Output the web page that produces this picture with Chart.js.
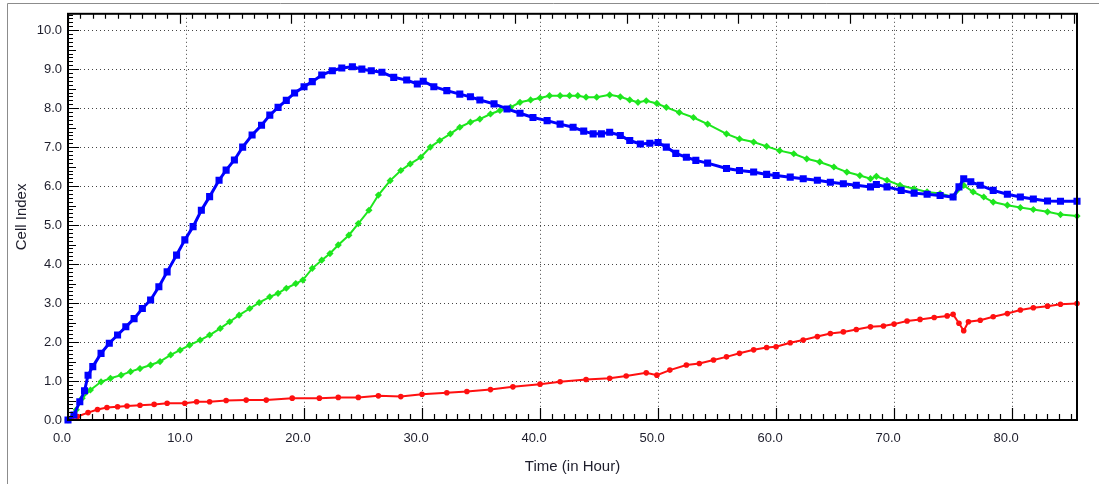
<!DOCTYPE html>
<html>
<head>
<meta charset="utf-8">
<script src="https://cdn.jsdelivr.net/npm/chart.js@4/dist/chart.umd.min.js"></script>
<style>
  html, body { margin: 0; padding: 0; background: #fff; }
  #wrap { position: relative; width: 1099px; height: 484px; }
</style>
</head>
<body>
<div id="wrap"><canvas id="cellChart" width="1099" height="484"></canvas></div>
<script>
// time (hours) and cell index
const blueT = [0,0.5,1.0,1.4,1.7,2.1,2.8,3.5,4.2,4.9,5.6,6.3,7.0,7.7,8.4,9.2,9.9,10.6,11.3,12.0,12.8,13.4,14.1,14.8,15.6,16.4,17.1,17.8,18.5,19.2,20.0,20.7,21.5,22.4,23.2,24.1,24.9,25.7,26.6,27.6,28.7,29.6,30.1,31.0,32.1,33.2,34.1,34.9,36.1,37.2,38.3,39.4,40.6,41.7,42.8,43.7,44.5,45.2,45.9,46.8,47.6,48.5,49.3,50.0,50.7,51.5,52.4,53.2,54.2,55.8,56.9,58.1,59.2,60.0,61.2,62.3,63.5,64.6,65.7,66.8,68.0,68.5,69.4,70.6,71.7,72.8,73.9,75.0,75.5,75.9,76.5,77.3,78.4,79.6,80.7,81.8,83.0,84.1,85.5];
const blueV = [0,0.13,0.47,0.75,1.15,1.37,1.71,1.97,2.18,2.39,2.6,2.86,3.08,3.42,3.8,4.23,4.62,4.96,5.38,5.73,6.15,6.41,6.67,7.0,7.31,7.56,7.82,8.02,8.2,8.39,8.55,8.68,8.85,8.96,9.03,9.06,9.0,8.96,8.92,8.79,8.72,8.62,8.69,8.55,8.45,8.36,8.29,8.21,8.11,7.98,7.87,7.76,7.68,7.59,7.51,7.41,7.34,7.34,7.38,7.30,7.17,7.08,7.1,7.12,7.0,6.84,6.74,6.66,6.59,6.45,6.40,6.36,6.30,6.27,6.23,6.19,6.15,6.10,6.06,6.02,5.98,6.04,5.98,5.89,5.82,5.79,5.76,5.72,5.98,6.19,6.11,6.02,5.89,5.79,5.72,5.67,5.62,5.61,5.61];

const greenT = [0,0.7,1.2,1.9,2.8,3.6,4.5,5.3,6.1,7.0,7.8,8.7,9.5,10.3,11.2,12.0,12.9,13.7,14.5,15.4,16.2,17.1,17.8,18.5,19.3,19.9,20.7,21.5,22.2,22.9,23.8,24.6,25.5,26.3,27.3,28.2,29.0,29.9,30.7,31.5,32.4,33.2,34.1,34.9,35.8,36.6,37.5,38.3,39.2,40.0,40.8,41.7,42.5,43.2,43.9,44.8,45.9,46.8,47.6,48.3,49.0,49.9,50.7,51.8,53.0,54.2,55.8,56.9,58.1,59.2,60.3,61.5,62.6,63.7,64.9,66.0,67.1,68.0,68.5,69.4,70.5,71.7,72.8,73.9,75.0,75.9,76.7,77.6,78.4,79.6,80.7,81.8,83.0,84.1,85.5];
const greenV = [0,0.26,0.56,0.77,0.98,1.07,1.15,1.24,1.32,1.41,1.5,1.67,1.79,1.92,2.05,2.18,2.35,2.52,2.69,2.86,3.01,3.16,3.25,3.38,3.5,3.59,3.89,4.1,4.27,4.49,4.74,5.04,5.38,5.77,6.14,6.4,6.57,6.74,7.0,7.17,7.34,7.51,7.64,7.72,7.85,7.94,8.02,8.15,8.21,8.26,8.32,8.32,8.32,8.32,8.28,8.28,8.34,8.29,8.21,8.15,8.19,8.12,8.02,7.89,7.76,7.59,7.34,7.21,7.13,7.02,6.91,6.83,6.70,6.62,6.49,6.36,6.27,6.19,6.25,6.15,6.02,5.93,5.85,5.81,5.72,6.02,5.85,5.72,5.59,5.51,5.45,5.40,5.34,5.27,5.23];

const redT = [0,0.8,1.7,2.5,3.3,4.2,5.0,6.1,7.3,8.4,9.9,10.9,12.0,13.4,15.1,16.8,19.0,21.3,22.9,24.6,26.3,28.2,30.0,32.1,33.8,35.8,37.7,40.0,41.7,43.9,45.9,47.3,49.0,49.9,51.0,52.4,53.5,54.7,55.8,56.9,58.1,59.2,60.0,61.2,62.3,63.5,64.6,65.7,66.8,68.0,69.1,70.0,71.1,72.2,73.4,74.5,75.0,75.5,75.9,76.3,77.3,78.4,79.6,80.7,81.8,83.0,84.1,85.5];
const redV = [0,0.09,0.19,0.27,0.32,0.34,0.36,0.38,0.40,0.43,0.43,0.47,0.47,0.50,0.51,0.51,0.56,0.56,0.58,0.58,0.62,0.6,0.66,0.70,0.73,0.78,0.85,0.92,0.98,1.04,1.07,1.13,1.21,1.15,1.28,1.41,1.45,1.54,1.62,1.71,1.80,1.86,1.88,1.98,2.05,2.14,2.22,2.26,2.32,2.39,2.41,2.46,2.54,2.58,2.63,2.67,2.71,2.48,2.29,2.52,2.56,2.65,2.73,2.82,2.88,2.92,2.97,2.99];

const xMax = 85.5;
const yMax = 10.42;
const topMax = 9.03; // unlabeled top axis, 9 minor steps per major

function pts(t, v) {
  return t.map((x, i) => ({ x: x, y: v[i] }));
}

const FONT = "'Liberation Sans', Arial, sans-serif";
const TXT = '#1e1e2c';

// inward tick marks, plot frame and outer panel border
const frame = {
  id: 'frame',
  afterDraw(chart) {
    const { ctx, chartArea: a, scales } = chart;
    ctx.save();
    ctx.setLineDash([]);
    ctx.strokeStyle = '#8c8c8c';
    ctx.lineWidth = 1;
    ctx.beginPath();
    ctx.moveTo(7.5, 484);
    ctx.lineTo(7.5, 3.5);
    ctx.lineTo(1099, 3.5);
    ctx.stroke();

    ctx.strokeStyle = '#000';
    ctx.lineWidth = 1.2;
    ctx.beginPath();
    for (let t = 0; t <= xMax; t++) {
      const px = Math.round(scales.x.getPixelForValue(t)) + 0.5;
      const len = t % 10 === 0 ? 12 : 6;
      ctx.moveTo(px, a.bottom);
      ctx.lineTo(px, a.bottom - len);
    }
    for (let k = 0; k / 9 <= topMax; k++) {
      const px = Math.round(scales.x2.getPixelForValue(k / 9)) + 0.5;
      const len = k % 9 === 0 ? 10 : 5;
      ctx.moveTo(px, a.top);
      ctx.lineTo(px, a.top + len);
    }
    for (let i = 0; i / 10 <= yMax; i++) {
      const py = Math.round(scales.y.getPixelForValue(i / 10)) + 0.5;
      const len = i % 10 === 0 ? 11 : (i % 5 === 0 ? 8 : 5);
      ctx.moveTo(a.left, py);
      ctx.lineTo(a.left + len, py);
    }
    ctx.stroke();

    ctx.lineWidth = 2;
    ctx.strokeStyle = '#000';
    ctx.strokeRect(a.left, a.top, a.right - a.left, a.bottom - a.top);
    ctx.restore();
  }
};

new Chart(document.getElementById('cellChart'), {
  type: 'line',
  data: {
    datasets: [
      {
        label: 'blue',
        data: pts(blueT, blueV),
        borderColor: '#0000ff',
        backgroundColor: '#0000ff',
        borderWidth: 3,
        pointStyle: 'rect',
        pointRadius: 5,
        pointBorderWidth: 0,
        clip: 6
      },
      {
        label: 'green',
        data: pts(greenT, greenV),
        borderColor: '#1ee61e',
        backgroundColor: '#1ee61e',
        borderWidth: 2,
        pointStyle: 'rectRot',
        pointRadius: 3.6,
        pointBorderWidth: 0,
        clip: 6
      },
      {
        label: 'red',
        data: pts(redT, redV),
        borderColor: '#ff1010',
        backgroundColor: '#ff1010',
        borderWidth: 2,
        pointStyle: 'circle',
        pointRadius: 2.8,
        pointBorderWidth: 0,
        clip: 6
      }
    ]
  },
  options: {
    responsive: false,
    animation: false,
    layout: { padding: { left: 0, right: 22, top: 0, bottom: 0 } },
    plugins: {
      legend: { display: false },
      tooltip: { enabled: false }
    },
    scales: {
      x: {
        type: 'linear',
        position: 'bottom',
        min: 0,
        max: xMax,
        afterFit: s => { s.height = 64; },
        ticks: {
          stepSize: 10,
          includeBounds: false,
          autoSkip: false,
          maxRotation: 0,
          padding: 11,
          labelOffset: -6,
          color: TXT,
          font: { family: FONT, size: 13 },
          callback: v => v.toFixed(1)
        },
        grid: { color: '#444', lineWidth: 1, drawTicks: false },
        border: { display: false, dash: [1, 3] },
        title: {
          display: true,
          text: 'Time (in Hour)',
          color: TXT,
          font: { family: FONT, size: 15 },
          padding: { top: 0, bottom: 8 }
        }
      },
      x2: {
        type: 'linear',
        position: 'top',
        min: 0,
        max: topMax,
        afterFit: s => { s.height = 13; },
        ticks: { display: false },
        grid: { display: false, drawTicks: false },
        border: { display: false }
      },
      y: {
        type: 'linear',
        min: 0,
        max: yMax,
        afterFit: s => { s.width = 68; },
        ticks: {
          stepSize: 1,
          includeBounds: false,
          padding: 6,
          color: TXT,
          font: { family: FONT, size: 13 },
          callback: v => v.toFixed(1)
        },
        grid: { color: '#444', lineWidth: 1, drawTicks: false },
        border: { display: false, dash: [1, 3] },
        title: {
          display: true,
          text: 'Cell Index',
          color: TXT,
          font: { family: FONT, size: 15 },
          padding: { top: 13, bottom: 0 }
        }
      }
    }
  },
  plugins: [frame]
});
</script>
</body>
</html>
